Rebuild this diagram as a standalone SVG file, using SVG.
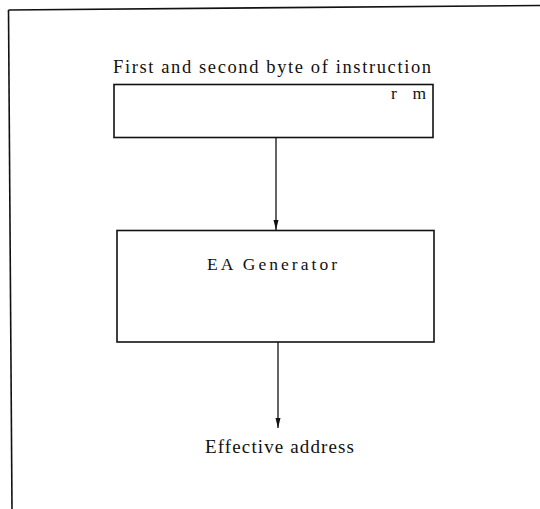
<svg xmlns="http://www.w3.org/2000/svg" width="540" height="509" viewBox="0 0 540 509">
  <style>
    .box { fill: #ffffff; stroke: #111111; stroke-width: 1.6; }
    .frame { fill: none; stroke: #111111; stroke-width: 1.6; }
    .conn { fill: none; stroke: #111111; stroke-width: 1.3; }
    .lbl { font-family: "Liberation Serif", "Times New Roman", serif; fill: #111111; }
  </style>
  <defs>
    <marker id="arrow" markerUnits="userSpaceOnUse" markerWidth="10" markerHeight="6" refX="10" refY="3" orient="auto">
      <path d="M0,0.5 L10,3 L0,5.5 z" fill="#111111"/>
    </marker>
  </defs>
  <rect x="0" y="0" width="540" height="509" fill="#ffffff"/>
  <g id="frame">
    <path class="frame" d="M8.5,10 L540,5.5"/>
    <path class="frame" d="M8.5,10 L12,509"/>
  </g>
  <g id="node-instruction">
    <text class="lbl" x="113" y="72.5" font-size="18.5" textLength="318" lengthAdjust="spacing">First and second byte of instruction</text>
    <rect class="box" x="114" y="84.5" width="319" height="53"/>
    <text class="lbl" x="391" y="99" font-size="17.5" textLength="35" lengthAdjust="spacing">r m</text>
  </g>
  <g id="node-ea">
    <rect class="box" x="117" y="230.5" width="317" height="111.5"/>
    <text class="lbl" x="207" y="270" font-size="17.5" textLength="130" lengthAdjust="spacing">EA Generator</text>
  </g>
  <g id="node-output">
    <text class="lbl" x="205" y="452.5" font-size="19" textLength="149" lengthAdjust="spacing">Effective address</text>
  </g>
  <g id="connectors">
    <path class="conn" d="M276,137.5 L276,230" marker-end="url(#arrow)"/>
    <path class="conn" d="M278,342 L278,428" marker-end="url(#arrow)"/>
  </g>
</svg>
